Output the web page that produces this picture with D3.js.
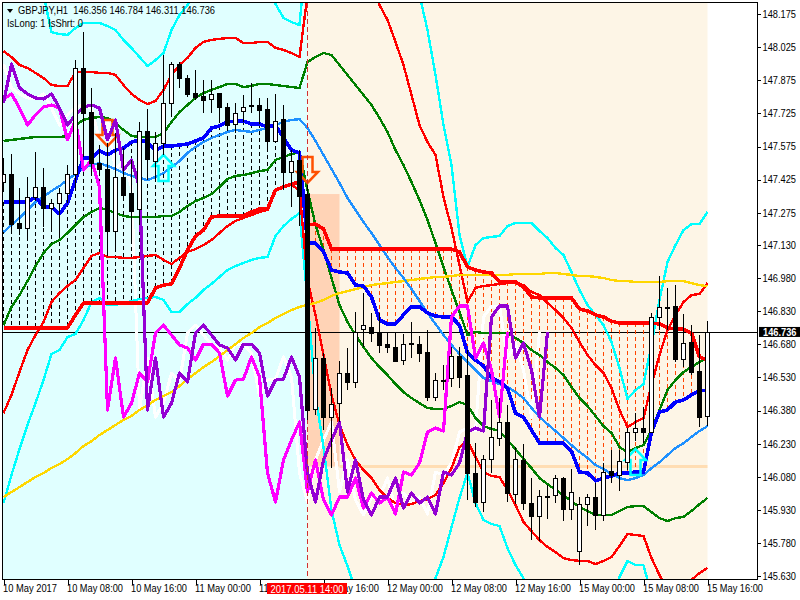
<!DOCTYPE html>
<html><head><meta charset="utf-8">
<script src="https://cdn.jsdelivr.net/npm/d3@7/dist/d3.min.js"></script>
<style>html,body{margin:0;padding:0;background:#fff}svg{display:block}text{font-family:"Liberation Sans",sans-serif;font-size:10.4px;fill:#000}</style>
</head><body><svg id="c" width="800" height="600"></svg>
<script>
const priceTicks=[148.175,148.025,147.875,147.725,147.575,147.425,147.275,147.13,146.98,146.83,146.68,146.53,146.38,146.23,146.08,145.93,145.78,145.63];
const priceTickLabels=["148.175","148.025","147.875","147.725","147.575","147.425","147.275","147.130","146.980","146.830","146.680","146.530","146.380","146.230","146.080","145.930","145.780","145.630"];
const timeTickBars=[0,8,16,24,32,40,48,56,64,72,80,88];
const timeTickLabels=["10 May 2017","10 May 08:00","10 May 16:00","11 May 00:00","11 May 08:00","11 May 16:00","12 May 00:00","12 May 08:00","12 May 16:00","15 May 00:00","15 May 08:00","15 May 16:00"];
const title="GBPJPY,H1  146.356 146.784 146.311 146.736";
const subtitle="IsLong: 1 IsShrt: 0";
const lastPrice=146.736, cursorBar=38, cursorLabel="2017.05.11 14:00";
const shadePrices=[147.360,146.127], shadeBars=[38,42,88];

const opens=[147.414,147.451,147.229,147.206,147.347,147.392,147.297,147.319,147.365,147.451,
147.930,147.731,147.500,147.473,147.193,147.437,147.365,147.292,147.645,147.509,
147.591,147.772,147.948,147.885,147.817,147.804,147.790,147.817,147.754,147.677,
147.736,147.763,147.763,147.745,147.600,147.699,147.460,147.514,147.360,146.387,
146.618,146.351,146.414,146.550,146.509,146.749,146.758,146.736,146.681,146.668,
146.609,146.686,146.681,146.645,146.442,146.518,146.528,146.627,146.541,146.098,
145.966,146.161,146.256,146.328,146.003,146.156,145.962,145.903,145.994,145.998,
146.075,145.935,145.745,145.957,145.989,145.908,146.107,146.089,146.147,146.283,
146.301,146.283,146.804,146.849,146.853,146.614,146.690,146.559,146.356];
const highs=[147.523,147.541,147.387,147.437,147.550,147.478,147.338,147.387,147.491,147.967,
148.093,147.840,147.582,147.591,147.636,147.568,147.514,147.686,147.745,147.641,
147.989,147.957,147.957,147.899,147.921,147.876,147.876,147.817,147.772,147.772,
147.808,147.862,147.795,147.795,147.813,147.763,147.559,147.559,147.401,146.754,
146.641,146.482,146.604,146.663,146.826,146.912,146.822,146.822,146.731,146.731,
146.727,146.781,146.718,146.745,146.550,146.586,146.668,146.668,146.654,146.233,
146.179,146.428,146.437,146.405,146.215,146.229,146.075,146.021,146.043,146.089,
146.080,146.116,145.989,146.003,146.052,146.143,146.202,146.202,146.301,146.369,
146.396,146.822,146.989,146.935,146.948,146.817,146.767,146.722,146.784];
const lows=[147.369,147.184,147.175,147.152,147.333,147.211,147.197,147.175,147.319,147.392,
147.528,147.455,147.446,147.093,147.116,147.333,147.152,147.220,147.423,147.423,
147.537,147.709,147.840,147.799,147.786,147.727,147.727,147.681,147.650,147.636,
147.686,147.727,147.677,147.568,147.595,147.378,147.301,147.215,146.338,146.360,
146.292,146.120,146.328,146.473,146.482,146.668,146.690,146.641,146.641,146.604,
146.586,146.618,146.600,146.423,146.423,146.473,146.487,146.482,145.976,145.944,
145.921,146.098,146.220,145.966,145.957,145.930,145.794,145.790,145.890,145.962,
145.880,145.885,145.681,145.858,145.840,145.880,146.052,146.016,146.111,146.242,
146.233,146.283,146.745,146.745,146.600,146.577,146.541,146.306,146.311];
const closes=[147.451,147.224,147.206,147.347,147.392,147.297,147.319,147.365,147.451,147.930,
147.727,147.500,147.473,147.193,147.437,147.356,147.283,147.645,147.518,147.591,
147.772,147.948,147.885,147.813,147.799,147.786,147.813,147.754,147.672,147.727,
147.754,147.758,147.740,147.600,147.690,147.460,147.509,147.351,146.383,146.618,
146.351,146.410,146.550,146.509,146.736,146.767,146.731,146.677,146.668,146.604,
146.681,146.681,146.641,146.442,146.518,146.514,146.627,146.532,146.098,145.966,
146.161,146.261,146.328,146.007,146.161,145.962,145.903,145.994,145.989,146.075,
145.935,146.012,145.957,145.989,145.908,146.102,146.089,146.152,146.283,146.301,
146.283,146.804,146.849,146.844,146.614,146.686,146.555,146.351,146.736];

const cyanUpper=[148.419,148.419,148.419,148.419,148.419,148.261,148.093,148.084,148.080,148.111,
148.134,148.134,148.134,148.120,148.102,148.057,148.021,147.980,147.939,147.966,
147.998,148.102,148.170,148.215,148.261,148.419,148.419,148.419,148.419,148.419,
148.419,148.419,148.419,148.283,148.220,148.157,148.138,148.125,148.510,148.419,
148.419,148.419,148.419,148.419,148.419,148.419,148.419,148.419,148.419,148.419,
148.419,148.374,148.261,148.102,147.899,147.672,147.491,147.175,147.030,147.129,
147.161,147.166,147.170,147.215,147.229,147.229,147.229,147.193,147.161,147.116,
147.084,147.007,146.926,146.858,146.813,146.767,146.690,146.573,146.433,146.473,
146.500,146.677,146.881,147.052,147.129,147.197,147.224,147.224,147.279];
const redUpper=[148.007,147.980,147.944,147.930,147.908,147.885,147.853,147.849,147.849,147.912,
147.912,147.912,147.908,147.908,147.899,147.853,147.813,147.786,147.767,147.781,
147.831,147.899,147.944,147.976,148.021,148.048,148.057,148.062,148.066,148.066,
148.043,148.043,148.048,148.048,148.021,148.012,147.998,147.980,148.261,148.510,
148.510,148.510,148.510,148.510,148.510,148.510,148.329,148.215,148.148,148.048,
147.944,147.808,147.672,147.595,147.537,147.347,147.206,147.039,146.871,146.935,
146.944,146.948,146.953,146.957,146.957,146.948,146.917,146.903,146.867,146.835,
146.799,146.754,146.690,146.632,146.586,146.550,146.482,146.383,146.306,146.328,
146.347,146.496,146.632,146.745,146.813,146.871,146.903,146.908,146.957];
const greenUpper=[147.600,147.605,147.609,147.614,147.618,147.618,147.618,147.618,147.623,147.672,
147.695,147.704,147.709,147.704,147.681,147.650,147.623,147.618,147.618,147.618,
147.636,147.686,147.731,147.763,147.795,147.817,147.831,147.844,147.858,147.858,
147.844,147.849,147.858,147.858,147.853,147.849,147.844,147.840,147.957,147.980,
147.998,147.989,147.944,147.899,147.853,147.808,147.763,147.704,147.641,147.559,
147.491,147.414,147.333,147.243,147.138,147.030,146.926,146.826,146.722,146.736,
146.731,146.731,146.731,146.731,146.709,146.686,146.654,146.632,146.600,146.573,
146.541,146.487,146.437,146.401,146.356,146.310,146.279,146.215,146.193,146.211,
146.224,146.292,146.383,146.473,146.518,146.555,146.577,146.600,146.623];
const blueMain=[147.324,147.324,147.324,147.324,147.347,147.301,147.301,147.270,147.319,147.423,
147.523,147.523,147.555,147.537,147.559,147.568,147.595,147.605,147.595,147.559,
147.577,147.577,147.582,147.586,147.600,147.614,147.659,147.668,147.686,147.690,
147.690,147.677,147.677,147.663,147.672,147.614,147.559,147.546,147.138,147.138,
147.098,147.016,147.007,147.003,146.948,146.944,146.894,146.790,146.772,146.772,
146.813,146.849,146.849,146.822,146.808,146.804,146.804,146.767,146.641,146.609,
146.582,146.528,146.510,146.482,146.369,146.351,146.292,146.233,146.233,146.233,
146.233,146.197,146.102,146.098,146.062,146.075,146.084,146.098,146.098,146.102,
146.102,146.283,146.374,146.383,146.419,146.428,146.451,146.469,146.473];
const dodgerLine=[147.188,147.220,147.252,147.288,147.324,147.347,147.374,147.396,147.424,147.451,
147.478,147.491,147.500,147.487,147.473,147.455,147.442,147.433,147.423,147.437,
147.455,147.482,147.509,147.546,147.573,147.595,147.614,147.627,147.641,147.650,
147.645,147.641,147.650,147.659,147.672,147.686,147.695,147.699,147.659,147.600,
147.537,147.473,147.410,147.342,147.288,147.233,147.184,147.129,147.075,147.025,
146.980,146.930,146.876,146.822,146.772,146.722,146.677,146.636,146.600,146.564,
146.528,146.514,146.500,146.487,146.464,146.437,146.392,146.351,146.319,146.288,
146.256,146.224,146.193,146.166,146.134,146.116,146.093,146.075,146.066,146.075,
146.089,146.120,146.147,146.179,146.211,146.233,146.261,146.288,146.310];
const greenLower=[146.767,146.849,146.903,146.966,147.034,147.093,147.134,147.152,147.184,147.220,
147.256,147.279,147.297,147.288,147.274,147.261,147.256,147.256,147.256,147.256,
147.261,147.261,147.279,147.306,147.328,147.342,147.360,147.392,147.428,147.442,
147.446,147.455,147.464,147.469,147.514,147.528,147.541,147.550,147.378,147.220,
147.107,146.980,146.858,146.781,146.722,146.668,146.618,146.577,146.541,146.500,
146.464,146.437,146.414,146.392,146.387,146.387,146.401,146.419,146.405,146.347,
146.310,146.297,146.288,146.247,146.206,146.161,146.120,146.075,146.048,146.021,
145.998,145.971,145.944,145.926,145.908,145.908,145.908,145.926,145.944,145.948,
145.948,145.921,145.894,145.880,145.894,145.899,145.926,145.957,145.985];
const redLower=[146.369,146.451,146.555,146.654,146.722,146.781,146.871,146.912,146.944,146.971,
147.025,147.080,147.093,147.075,147.075,147.071,147.071,147.075,147.080,147.084,
147.062,147.043,147.071,147.098,147.111,147.129,147.152,147.184,147.215,147.238,
147.252,147.265,147.279,147.288,147.374,147.392,147.401,147.378,146.971,146.813,
146.632,146.451,146.315,146.224,146.157,146.111,146.075,146.021,145.985,145.962,
145.953,145.957,145.971,145.980,145.998,146.052,146.120,146.215,146.242,146.170,
146.102,146.084,146.080,146.021,145.953,145.876,145.835,145.794,145.763,145.740,
145.713,145.704,145.700,145.700,145.686,145.700,145.718,145.767,145.822,145.817,
145.813,145.713,145.636,145.568,145.523,145.546,145.614,145.645,145.668];
const cyanLower=[145.962,146.089,146.206,146.315,146.414,146.518,146.636,146.654,146.713,146.727,
146.790,146.871,146.890,146.858,146.858,146.867,146.876,146.885,146.890,146.894,
146.881,146.826,146.826,146.862,146.890,146.926,146.953,146.985,147.016,147.034,
147.048,147.062,147.071,147.075,147.170,147.215,147.247,147.274,146.881,146.451,
146.215,145.930,145.772,145.677,145.568,145.478,145.478,145.478,145.478,145.478,
145.478,145.478,145.478,145.500,145.622,145.718,145.853,145.985,146.098,145.962,
145.885,145.867,145.858,145.758,145.681,145.622,145.523,145.478,145.478,145.478,
145.478,145.478,145.478,145.478,145.478,145.478,145.478,145.627,145.700,145.681,
145.681,145.546,145.478,145.478,145.478,145.478,145.478,145.478,145.478];
const goldLine=[145.989,146.012,146.034,146.057,146.080,146.098,146.120,146.138,146.161,146.188,
146.220,146.242,146.270,146.292,146.315,146.338,146.356,146.383,146.405,146.428,
146.446,146.464,146.491,146.523,146.550,146.577,146.600,146.627,146.654,146.681,
146.709,146.731,146.758,146.776,146.799,146.817,146.835,146.849,146.858,146.867,
146.881,146.899,146.912,146.921,146.930,146.939,146.948,146.953,146.957,146.962,
146.966,146.971,146.976,146.980,146.985,146.985,146.989,146.994,146.994,146.994,
146.994,146.994,146.994,146.994,146.998,146.998,146.998,146.998,147.003,147.003,
146.998,146.994,146.989,146.989,146.985,146.980,146.971,146.966,146.966,146.962,
146.962,146.962,146.962,146.966,146.966,146.966,146.957,146.948,146.943];
const redStop=[146.754,146.754,146.754,146.754,146.754,146.754,146.754,146.754,146.754,146.813,
146.867,146.867,146.867,146.867,146.867,146.867,146.867,146.867,146.867,146.935,
146.948,146.953,147.025,147.107,147.170,147.197,147.256,147.261,147.261,147.261,
147.261,147.279,147.292,147.292,147.378,147.392,147.405,147.414,147.220,147.224,
147.202,147.111,147.111,147.111,147.111,147.111,147.111,147.111,147.111,147.111,
147.111,147.111,147.111,147.111,147.111,147.111,147.111,147.098,147.030,147.016,
147.007,147.003,146.962,146.962,146.962,146.939,146.894,146.890,146.890,146.890,
146.890,146.890,146.840,146.831,146.813,146.804,146.785,146.776,146.776,146.776,
146.776,146.776,146.772,146.754,146.749,146.749,146.731,146.623,146.609];
const purpleLine=[147.772,147.948,147.840,147.813,147.795,147.790,147.813,147.749,147.672,147.718,
147.754,147.763,147.749,147.605,147.695,147.469,147.514,147.392,146.383,146.618,
146.351,146.414,146.550,146.510,146.731,146.767,146.722,146.677,146.663,146.609,
146.681,146.681,146.641,146.446,146.518,146.523,146.623,146.532,146.098,145.966,
146.157,146.247,146.328,146.012,146.157,145.976,145.908,145.989,145.989,146.075,
145.939,146.007,145.962,145.989,145.912,146.102,146.089,146.143,146.283,146.301,
146.288,146.804,146.853,146.853,146.618,146.686,146.564,146.351,146.736];
const whiteLine=[147.948,147.840,147.813,147.795,147.790,147.813,147.749,147.672,147.718,
147.754,147.763,147.749,147.605,147.695,147.469,147.514,147.392,146.383,146.618,
146.351,146.414,146.550,146.510,146.731,146.767,146.722,146.677,146.663,146.609,
146.681,146.681,146.641,146.446,146.518,146.523,146.623,146.532,146.098,145.966,
146.157,146.247,146.328,146.012,146.157,145.976,145.908,145.989,145.989,146.075,
145.939,146.007,145.962,145.989,145.912,146.102,146.089,146.143,146.283,146.301,
146.288,146.804,146.853,146.853,146.618,146.686,146.564,146.351,146.736];
const magentaLine=[147.790,147.813,147.749,147.672,147.718,
147.754,147.763,147.749,147.605,147.695,147.469,147.514,147.392,146.383,146.618,
146.351,146.414,146.550,146.510,146.731,146.767,146.722,146.677,146.663,146.609,
146.681,146.681,146.641,146.446,146.518,146.523,146.623,146.532,146.098,145.966,
146.157,146.247,146.328,146.012,146.157,145.976,145.908,145.989,145.989,146.075,
145.939,146.007,145.962,145.989,145.912,146.102,146.089,146.143,146.283,146.301,
146.288,146.804,146.853,146.853,146.618,146.686,146.564,146.351,146.736];
const arrowBars=[13,38,20,79];
const arrowPrices=[147.577,147.410,147.537,146.206];
const arrowDirs=["down","down","up","up"];

const svg=d3.select("#c");
const L=3,R=757,T=3,B=579;
const x=d3.scaleLinear().domain([0,88]).range([3.5,707.5]);
const y=d3.scaleLinear().domain([145.63,148.175]).range([576.4,13.9]);
const font='"Liberation Sans"';
const fit=(sel,w)=>sel.attr("textLength",w).attr("lengthAdjust","spacingAndGlyphs");
svg.append("defs").append("clipPath").attr("id","plot").append("rect").attr("x",L).attr("y",T).attr("width",R-L).attr("height",B-T);
const g=svg.append("g").attr("clip-path","url(#plot)");
g.append("rect").attr("x",L).attr("y",T).attr("width",x(cursorBar)-L).attr("height",B-T).attr("fill","#E0FFFF");
g.append("rect").attr("x",x(cursorBar)).attr("y",T).attr("width",x(88)-x(cursorBar)).attr("height",B-T).attr("fill","#FDF5E6");
g.append("rect").attr("x",x(shadeBars[0])).attr("y",y(shadePrices[0])).attr("width",x(shadeBars[1])-x(shadeBars[0])).attr("height",y(shadePrices[1])-y(shadePrices[0])).attr("fill","#FFD3B6");
g.append("line").attr("x1",x(shadeBars[1])).attr("x2",x(shadeBars[2])).attr("y1",y(shadePrices[1])).attr("y2",y(shadePrices[1])).attr("stroke","#FFDDB3").attr("stroke-width",3);
g.append("line").attr("x1",L).attr("x2",R).attr("y1",Math.round(y(lastPrice))+.5).attr("y2",Math.round(y(lastPrice))+.5).attr("stroke","#000").attr("stroke-width",1).attr("shape-rendering","crispEdges");
g.append("g").selectAll("line").data(d3.range(0,89).filter(i=>i!==cursorBar)).join("line")
 .attr("x1",i=>x(i)).attr("x2",i=>x(i)).attr("y1",i=>y(Math.max(blueMain[i],redStop[i]))).attr("y2",i=>y(Math.min(blueMain[i],redStop[i])))
 .attr("stroke",i=>blueMain[i]>redStop[i]?"#000":"#FF4500").attr("stroke-width",1).attr("stroke-dasharray","4,3").attr("shape-rendering","crispEdges");
const lg=d3.line().x((d,i)=>x(i)).y(d=>y(d));
const series=[[whiteLine,"#FFFFFF",3],[cyanUpper,"#00FFFF",2.4],[cyanLower,"#00FFFF",2.4],[redUpper,"#FF0000",2.4],[redLower,"#FF0000",2.4],[greenUpper,"#007F00",2.4],[greenLower,"#007F00",2.4],[goldLine,"#FFD700",2.4],[dodgerLine,"#1E90FF",2.4],[redStop,"#FF0000",3.6],[blueMain,"#0000FF",3.6]];
g.append("g").selectAll("path").data(series).join("path").attr("d",s=>lg(s[0])).attr("fill","none").attr("stroke",s=>s[1]).attr("stroke-width",s=>s[2]).attr("stroke-linejoin","round").attr("shape-rendering","crispEdges");
const arrowShape=(i)=>{const d=arrowDirs[i]==="down"?-1:1,cx=x(arrowBars[i]),ty=y(arrowPrices[i]);
 const p=[[0,0],[10.5,11],[5,11],[5,26],[-5,26],[-5,11],[-10.5,11]];
 return "M"+p.map(q=>[cx+q[0],ty+q[1]*d].join(",")).join("L")+"Z";};
g.append("g").selectAll("path").data(arrowBars.map((_,i)=>i)).join("path").attr("d",arrowShape).attr("fill","none")
 .attr("stroke",i=>arrowDirs[i]==="down"?"#FF5000":"#00FFFF").attr("stroke-width",2.5);
const tops=[[magentaLine,"#FF00FF",3.2],[purpleLine,"#9400D3",3.2]];
g.append("g").selectAll("path").data(tops).join("path").attr("d",s=>lg(s[0])).attr("fill","none").attr("stroke",s=>s[1]).attr("stroke-width",s=>s[2]).attr("stroke-linejoin","round").attr("shape-rendering","crispEdges");
g.append("line").attr("x1",x(cursorBar)).attr("x2",x(cursorBar)).attr("y1",T).attr("y2",B).attr("stroke","#D03030").attr("stroke-dasharray","5,3").attr("shape-rendering","crispEdges");
const bars=d3.range(0,89);
const cg=g.append("g").attr("shape-rendering","crispEdges");
cg.selectAll("line").data(bars).join("line").attr("x1",i=>x(i)).attr("x2",i=>x(i)).attr("y1",i=>y(highs[i])).attr("y2",i=>y(lows[i])).attr("stroke","#000");
cg.selectAll("rect").data(bars).join("rect")
 .attr("x",i=>x(i)-2).attr("width",4)
 .attr("y",i=>Math.round(y(Math.max(opens[i],closes[i])))+.5)
 .attr("height",i=>Math.max(1,Math.round(Math.abs(y(opens[i])-y(closes[i])))))
 .attr("fill",i=>closes[i]>=opens[i]?"#fff":"#000").attr("stroke","#000");
svg.append("rect").attr("x",2.5).attr("y",2.5).attr("width",R-2).attr("height",B-2).attr("fill","none").attr("stroke","#000").attr("shape-rendering","crispEdges");
const ya=svg.append("g").attr("transform",`translate(${R+.5},0)`).call(d3.axisRight(y).tickValues(priceTicks).tickSize(3).tickPadding(2).tickFormat((d,i)=>priceTickLabels[i]));
ya.select(".domain").remove();ya.selectAll("line").attr("stroke","#000").attr("shape-rendering","crispEdges");
fit(ya.selectAll("text").style("font-family",font).style("font-size","10.4px"),33.5);
const xa=svg.append("g").attr("transform",`translate(0,${B+.5})`).call(d3.axisBottom(x).tickValues(timeTickBars).tickSize(5).tickPadding(2).tickFormat((d,i)=>timeTickLabels[i]));
xa.select(".domain").remove();xa.selectAll("line").attr("stroke","#000").attr("shape-rendering","crispEdges");
const xt=xa.selectAll("text").attr("text-anchor","start").attr("dx",-1).attr("y",5).style("font-family",font).style("font-size","10.4px");
fit(xt,(d,i)=>i===0?54:56);
svg.append("rect").attr("x",x(cursorBar)-40.5).attr("y",583).attr("width",80).attr("height",11).attr("fill","#FF0000");
fit(svg.append("text").attr("x",x(cursorBar)-37).attr("y",592.5).style("fill","#fff").text(cursorLabel),73);
svg.append("rect").attr("x",759).attr("y",y(lastPrice)-5).attr("width",41).attr("height",10).attr("fill","#000");
fit(svg.append("text").attr("x",763).attr("y",y(lastPrice)+4).style("fill","#fff").style("font-weight","bold").text(lastPrice.toFixed(3)),33.5);
const tri=d3.path();tri.moveTo(7,9);tri.lineTo(13,9);tri.lineTo(10,13);tri.closePath();
svg.append("path").attr("d",tri.toString()).attr("fill","#000");
fit(svg.append("text").attr("x",18).attr("y",14).attr("xml:space","preserve").style("white-space","pre").text(title),197);
fit(svg.append("text").attr("x",7).attr("y",27).text(subtitle),76);
</script></body></html>
